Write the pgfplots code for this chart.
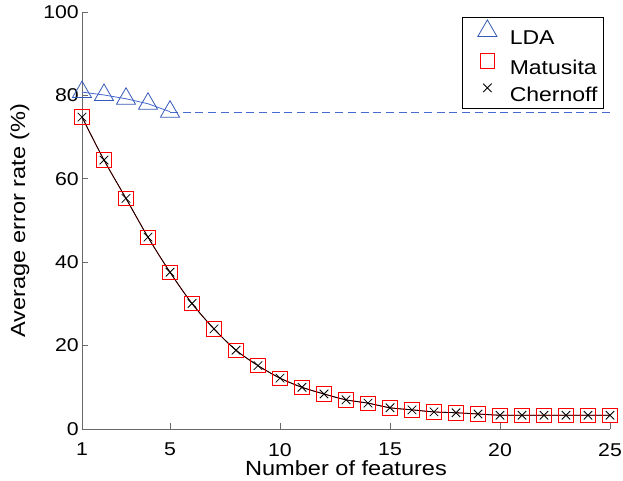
\documentclass[border=0pt]{standalone}
\usepackage{pgfplots}
\pgfplotsset{compat=1.18}
\usepackage{fontspec}
\setmainfont{Liberation Sans}[FakeStretch=1.15]
\definecolor{ldablue}{RGB}{55,90,185}
\definecolor{ldaline}{RGB}{70,105,210}
\definecolor{axgray}{RGB}{105,105,105}
\pgfplotstableread{
x y
1 74.8
2 64.5
3 55.3
4 46.0
5 37.6
6 30.1
7 24.0
8 18.9
9 15.2
10 12.2
11 10.0
12 8.4
13 7.0
14 6.2
15 5.1
16 4.6
17 4.1
18 3.9
19 3.6
20 3.3
21 3.3
22 3.3
23 3.3
24 3.3
25 3.3
}\curve
\pgfplotstableread{
x y
1 80.8
2 80.1
3 79.2
4 78.0
5 76.1
}\lda
\pgfplotstableread{
x y
5 76.0
25 76.0
}\ldadash
\begin{document}
\begin{tikzpicture}
\useasboundingbox (-82pt,-51pt) rectangle (541pt,429pt);
\begin{axis}[
  name=ax, at={(0,0)}, anchor=south west,
  scale only axis, width=528pt, height=417pt,
  xmin=1, xmax=25, ymin=0, ymax=100,
  axis x line*=bottom, axis y line*=left,
  axis line style={axgray, line width=0.8pt, -},
  xtick={1,5,10,15,20,25}, ytick={0,20,40,60,80,100},
  tick align=inside, major tick length=6pt,
  tick style={axgray, line width=0.8pt},
  /pgf/number format/assume math mode=true,
  ticklabel style={font=\fontsize{18.5}{22}\selectfont, inner sep=0pt},
  xticklabel style={anchor=north, yshift=-14pt},
  yticklabel style={anchor=east, xshift=-3pt},
  xlabel={Number of features}, ylabel={Average error rate (\%)},
  xlabel style={font=\fontsize{20.5}{24}\selectfont, at={(axis description cs:0.5,-0.0743)}, anchor=north, inner sep=0pt},
  ylabel style={font=\fontsize{20.5}{24}\selectfont, at={(axis description cs:-0.1364,0.5)}, anchor=north, inner sep=0pt},
  clip=false,
  legend style={at={(0.9886,0.988)}, anchor=north east, draw=black, line width=0.8pt,
    font=\fontsize{20}{24}\selectfont, inner xsep=0pt, inner ysep=2.5pt, row sep=4.5pt,
    nodes={inner sep=0pt, text height=17.5pt, text depth=5pt}},
  legend cell align=left,
  legend image code/.code={\path (-25pt,0pt) (22pt,0pt); \draw[#1] plot coordinates {(0pt,7pt)};},
]
% lines
\addplot[draw=ldaline, line width=0.8pt, forget plot] table {\lda};
\addplot[draw=ldaline, line width=1.1pt, dash pattern=on 8pt off 4.7pt, forget plot] table {\ldadash};
\addplot[color=red, line width=0.8pt, smooth, forget plot] table {\curve};
\addplot[color=black, line width=0.8pt, smooth, forget plot] table {\curve};
% markers
\addplot[color=ldablue, only marks, mark=triangle, mark size=11pt, mark options={line width=0.8pt}] table {\lda};
\addlegendentry{LDA}
\addplot[color=red, only marks, mark=square, mark size=7.2pt, mark options={line width=0.8pt}] table {\curve};
\addlegendentry{Matusita}
\addplot[color=black, only marks, mark=x, mark size=6pt, mark options={line width=0.8pt}] table {\curve};
\addlegendentry{Chernoff\hspace*{6pt}}
\end{axis}
\end{tikzpicture}
\end{document}
